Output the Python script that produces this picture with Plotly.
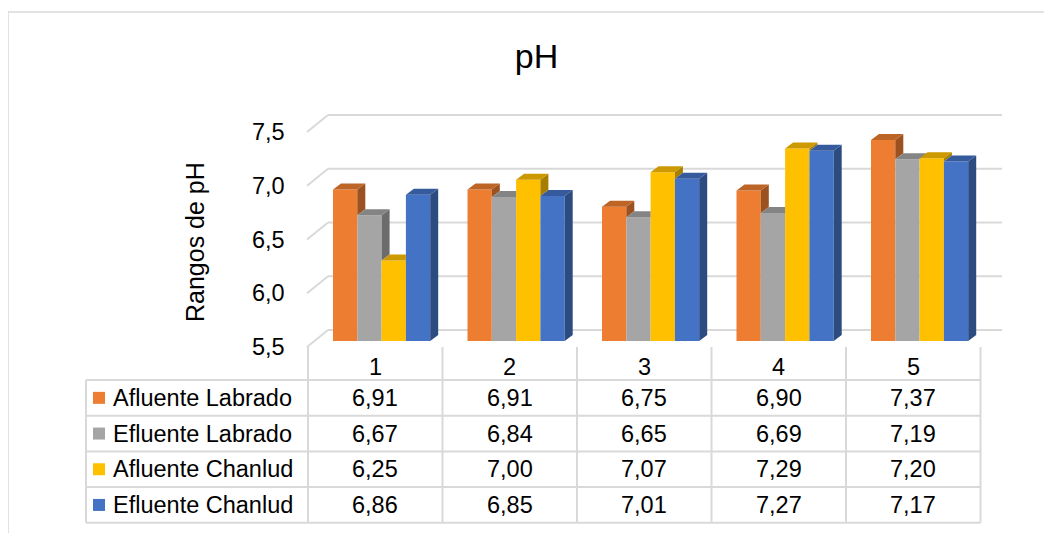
import plotly.graph_objects as go

# ---------------- data ----------------
categories = ["1", "2", "3", "4", "5"]
series_names = ["Afluente Labrado", "Efluente Labrado", "Afluente Chanlud", "Efluente Chanlud"]
afluente_labrado = [6.91, 6.91, 6.75, 6.90, 7.37]
efluente_labrado = [6.67, 6.84, 6.65, 6.69, 7.19]
afluente_chanlud = [6.25, 7.00, 7.07, 7.29, 7.20]
efluente_chanlud = [6.86, 6.85, 7.01, 7.27, 7.17]
y_ticks = [5.5, 6.0, 6.5, 7.0, 7.5]
chart_title = "pH"
y_title = "Rangos de pH"

series_values = [afluente_labrado, efluente_labrado, afluente_chanlud, efluente_chanlud]
colors = ["#ED7D31", "#A5A5A5", "#FFC000", "#4472C4"]

# ---------------- geometry helpers ----------------
W, H = 1052, 533
OFF = 8.0          # page body margin
FONT = "Liberation Sans, Arial, sans-serif"
GRID = "#D9D9D9"
BASE = 5.5
PX_PER_X = 134.5
PX_PER_Y = 107.5
X0_PX = 308.0   # screen pixel of x = 0.5
Y0_PY = 341.0   # screen pixel of y = BASE
TXT = 23.5


def px_to_x(px):
    return 0.5 + (px - X0_PX) / PX_PER_X


def py_to_y(py):
    return BASE + (Y0_PY - py) / PX_PER_Y


def xp(px):
    return (px - OFF) / W


def yp(py):
    return 1 - (py - OFF) / H


def shade(hex_color, f):
    h = hex_color.lstrip("#")
    r, g, b = (int(h[i:i + 2], 16) for i in (0, 2, 4))
    return "#%02X%02X%02X" % (int(r * f), int(g * f), int(b * f))


def fmt(v, nd=2):
    return f"{v:.{nd}f}".replace(".", ",")


BAR_W = 24.3 / PX_PER_X
GROUP_OFF = 25.0 / PX_PER_X
DX = 8.0 / PX_PER_X
DY = 6.0 / PX_PER_Y
BACK_DY = 11.0 / PX_PER_Y
FRONT_DY = 6.0 / PX_PER_Y

n_cat = len(categories)
n_ser = len(series_values)


def left_edge(i, j):
    return (i + 1) - 0.5 + GROUP_OFF + j * BAR_W


fig = go.Figure()

# ---------------- 3D faces (sides and tops) ----------------
side_traces = []
top_traces = []
for j in range(n_ser):
    sx, sy, tx, ty = [], [], [], []
    for i in range(n_cat):
        h = series_values[j][i]
        L = left_edge(i, j)
        R = L + BAR_W
        hn = series_values[j + 1][i] if j + 1 < n_ser else BASE
        if h > hn:
            lo = max(hn, BASE)
            sx += [R, R + DX, R + DX, R, R, None]
            sy += [lo, lo + DY, h + DY, h, lo, None]
        c = min(max(hn if j + 1 < n_ser else h, h), h + DY)
        xs = R + DX * (c - h) / DY
        tx += [L, R, R, xs, R + DX, L + DX, L, None]
        ty += [h, h, c, c, h + DY, h + DY, h, None]
    side_traces.append(go.Scatter(x=sx, y=sy, mode="lines", fill="toself",
                                  fillcolor=shade(colors[j], 0.66), line=dict(width=0),
                                  hoverinfo="skip", showlegend=False))
    top_traces.append(go.Scatter(x=tx, y=ty, mode="lines", fill="toself",
                                 fillcolor=shade(colors[j], 0.8), line=dict(width=0),
                                 hoverinfo="skip", showlegend=False))

# ---------------- front faces ----------------
for j in range(n_ser):
    centers = [left_edge(i, j) + BAR_W / 2 for i in range(n_cat)]
    fig.add_trace(go.Bar(
        x=centers, y=[v - BASE for v in series_values[j]], base=BASE,
        width=BAR_W, marker=dict(color=colors[j], line=dict(width=0)),
        name=series_names[j], customdata=series_values[j],
        hovertemplate=series_names[j] + ": %{customdata}<extra></extra>",
        showlegend=False))
for t in side_traces + top_traces:
    fig.add_trace(t)

shapes = []
annotations = []

# ---------------- walls / gridlines ----------------
x_back_l = px_to_x(328)
x_back_r = px_to_x(1002)
x_front_l = px_to_x(307)
for v in y_ticks:
    shapes.append(dict(type="line", xref="x", yref="y", x0=x_back_l, x1=x_back_r,
                       y0=v + BACK_DY, y1=v + BACK_DY, line=dict(color=GRID, width=2), layer="below"))
    shapes.append(dict(type="line", xref="x", yref="y", x0=x_front_l, x1=x_back_l,
                       y0=v - FRONT_DY, y1=v + BACK_DY, line=dict(color=GRID, width=2), layer="below"))
    annotations.append(dict(xref="paper", yref="y", x=xp(287), y=v - FRONT_DY, text=fmt(v, 1),
                            showarrow=False, xanchor="right", yanchor="middle",
                            font=dict(family=FONT, size=TXT, color="#000000")))

# ---------------- data table ----------------
col_px = [X0_PX + k * PX_PER_X for k in range(n_cat + 1)]
row_py = [380.0 + k * 35.7 for k in range(n_ser + 1)]
table_left = 86.0
for k, cx in enumerate(col_px):
    shapes.append(dict(type="line", xref="paper", yref="paper", x0=xp(cx), x1=xp(cx),
                       y0=yp(347), y1=yp(row_py[-1]), line=dict(color=GRID, width=2)))
shapes.append(dict(type="line", xref="paper", yref="paper", x0=xp(table_left), x1=xp(table_left),
                   y0=yp(row_py[0]), y1=yp(row_py[-1]), line=dict(color=GRID, width=2)))
for ry in row_py:
    shapes.append(dict(type="line", xref="paper", yref="paper", x0=xp(table_left), x1=xp(col_px[-1]),
                       y0=yp(ry), y1=yp(ry), line=dict(color=GRID, width=2)))

for i, cat in enumerate(categories):
    cx = (col_px[i] + col_px[i + 1]) / 2
    annotations.append(dict(xref="paper", yref="paper", x=xp(cx), y=yp(367), text=cat,
                            showarrow=False, xanchor="center", yanchor="middle",
                            font=dict(family=FONT, size=TXT, color="#000000")))
for j in range(n_ser):
    cy = (row_py[j] + row_py[j + 1]) / 2
    shapes.append(dict(type="rect", xref="paper", yref="paper", x0=xp(93), x1=xp(105),
                       y0=yp(cy - 6), y1=yp(cy + 6), fillcolor=colors[j], line=dict(width=0)))
    annotations.append(dict(xref="paper", yref="paper", x=xp(111), y=yp(cy), text=series_names[j],
                            showarrow=False, xanchor="left", yanchor="middle",
                            font=dict(family=FONT, size=TXT, color="#000000")))
    for i in range(n_cat):
        cx = (col_px[i] + col_px[i + 1]) / 2
        annotations.append(dict(xref="paper", yref="paper", x=xp(cx), y=yp(cy),
                                text=fmt(series_values[j][i]),
                                showarrow=False, xanchor="center", yanchor="middle",
                                font=dict(family=FONT, size=TXT, color="#000000")))

# y-axis title
annotations.append(dict(xref="paper", yref="paper", x=xp(195), y=yp(242), text=y_title,
                        textangle=-90, showarrow=False, xanchor="center", yanchor="middle",
                        font=dict(family=FONT, size=25, color="#000000")))

# outer chart border
shapes.append(dict(type="rect", xref="paper", yref="paper", x0=xp(8), x1=xp(1080),
                   y0=yp(570), y1=yp(12), line=dict(color=GRID, width=1.5)))

fig.update_layout(
    width=W, height=H,
    margin=dict(l=0, r=0, t=0, b=0),
    paper_bgcolor="white", plot_bgcolor="rgba(0,0,0,0)",
    barmode="overlay",
    title=dict(text=chart_title, x=xp(536.5), xanchor="center", y=1 - (56 - OFF) / H,
               yanchor="middle", font=dict(family=FONT, size=34, color="#000000")),
    xaxis=dict(domain=[xp(250), xp(1040)], range=[px_to_x(250), px_to_x(1040)],
               visible=False, fixedrange=True),
    yaxis=dict(domain=[yp(360), yp(90)], range=[py_to_y(360), py_to_y(90)],
               visible=False, fixedrange=True),
    shapes=shapes, annotations=annotations, showlegend=False,
)

fig.write_html("out.html")
